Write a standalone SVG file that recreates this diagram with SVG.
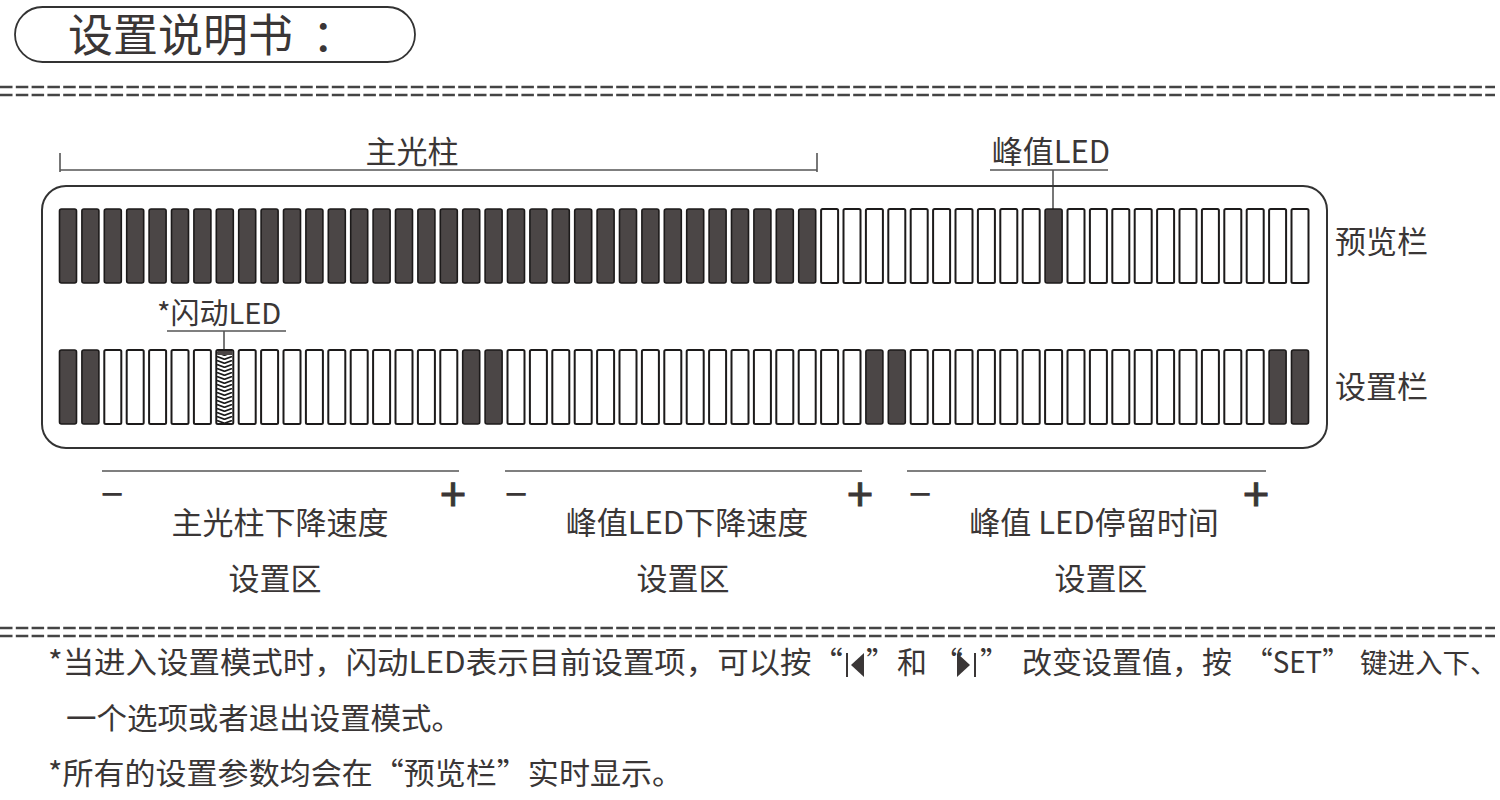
<svg xmlns="http://www.w3.org/2000/svg" width="1500" height="800" viewBox="0 0 1500 800">
<defs>
<style>
text{font-family:"Noto Sans CJK SC","Noto Sans",sans-serif;fill:#3a3636}
.dk{fill:#4b4646;stroke:#1c1a1a;stroke-width:1.6}
.wt{fill:#fff;stroke:#1c1a1a;stroke-width:2}
.ln{stroke:#555;stroke-width:1.6;fill:none}
.eq{stroke:#444;stroke-width:2.4;stroke-dasharray:12.5 3.3;fill:none}
</style>
<pattern id="herr" width="17" height="4" patternUnits="userSpaceOnUse" x="216" y="352">
<rect width="17" height="4" fill="#fff"/>
<polyline points="1,0.5 8.5,3.3 16,0.5" fill="none" stroke="#1a1a1a" stroke-width="1.7"/>
</pattern>
</defs>
<rect width="1500" height="800" fill="#fff"/>

<g id="title">
<rect x="15" y="7" width="400" height="55" rx="27.5" fill="none" stroke="#333" stroke-width="1.8"/>
<text x="68" y="52" font-size="45">设置说明书</text>
<text x="312" y="52" font-size="45">：</text>
</g>

<g id="separators">
<line class="eq" x1="0" y1="87" x2="1495" y2="87"/>
<line class="eq" x1="0" y1="95" x2="1495" y2="95"/>
<line class="eq" x1="0" y1="628" x2="1495" y2="628"/>
<line class="eq" x1="0" y1="636" x2="1495" y2="636"/>
</g>

<g id="connectors">
<line class="ln" x1="60" y1="170" x2="817" y2="170"/>
<line class="ln" x1="60" y1="153" x2="60" y2="172"/>
<line class="ln" x1="817" y1="153" x2="817" y2="172"/>
<line class="ln" x1="990" y1="170" x2="1108" y2="170"/>
<line class="ln" x1="1053" y1="170" x2="1053" y2="210"/>
<line class="ln" x1="167" y1="331" x2="286" y2="331"/>
<line class="ln" x1="224" y1="331" x2="224" y2="351"/>
<line class="ln" x1="102" y1="471" x2="459" y2="471"/>
<line class="ln" x1="505" y1="471" x2="862" y2="471"/>
<line class="ln" x1="907" y1="471" x2="1266" y2="471"/>
</g>

<g id="labels">
<text x="412" y="163" font-size="31" text-anchor="middle">主光柱</text>
<text x="1051" y="163" font-size="31" text-anchor="middle">峰值LED</text>
<text x="157" y="324" font-size="29">*闪动LED</text>
<text x="1335" y="253" font-size="31">预览栏</text>
<text x="1335" y="398" font-size="31">设置栏</text>
</g>

<g id="frame">
<rect x="42" y="186" width="1285" height="262" rx="24" fill="none" stroke="#333" stroke-width="2"/>
</g>

<g id="preview-bar">
<rect class="dk" x="59.5" y="209" width="17" height="74" rx="2"/>
<rect class="dk" x="81.9" y="209" width="17" height="74" rx="2"/>
<rect class="dk" x="104.3" y="209" width="17" height="74" rx="2"/>
<rect class="dk" x="126.7" y="209" width="17" height="74" rx="2"/>
<rect class="dk" x="149.1" y="209" width="17" height="74" rx="2"/>
<rect class="dk" x="171.5" y="209" width="17" height="74" rx="2"/>
<rect class="dk" x="193.9" y="209" width="17" height="74" rx="2"/>
<rect class="dk" x="216.3" y="209" width="17" height="74" rx="2"/>
<rect class="dk" x="238.7" y="209" width="17" height="74" rx="2"/>
<rect class="dk" x="261.1" y="209" width="17" height="74" rx="2"/>
<rect class="dk" x="283.5" y="209" width="17" height="74" rx="2"/>
<rect class="dk" x="305.9" y="209" width="17" height="74" rx="2"/>
<rect class="dk" x="328.3" y="209" width="17" height="74" rx="2"/>
<rect class="dk" x="350.7" y="209" width="17" height="74" rx="2"/>
<rect class="dk" x="373.1" y="209" width="17" height="74" rx="2"/>
<rect class="dk" x="395.5" y="209" width="17" height="74" rx="2"/>
<rect class="dk" x="417.9" y="209" width="17" height="74" rx="2"/>
<rect class="dk" x="440.3" y="209" width="17" height="74" rx="2"/>
<rect class="dk" x="462.7" y="209" width="17" height="74" rx="2"/>
<rect class="dk" x="485.1" y="209" width="17" height="74" rx="2"/>
<rect class="dk" x="507.5" y="209" width="17" height="74" rx="2"/>
<rect class="dk" x="529.9" y="209" width="17" height="74" rx="2"/>
<rect class="dk" x="552.3" y="209" width="17" height="74" rx="2"/>
<rect class="dk" x="574.7" y="209" width="17" height="74" rx="2"/>
<rect class="dk" x="597.1" y="209" width="17" height="74" rx="2"/>
<rect class="dk" x="619.5" y="209" width="17" height="74" rx="2"/>
<rect class="dk" x="641.9" y="209" width="17" height="74" rx="2"/>
<rect class="dk" x="664.3" y="209" width="17" height="74" rx="2"/>
<rect class="dk" x="686.7" y="209" width="17" height="74" rx="2"/>
<rect class="dk" x="709.1" y="209" width="17" height="74" rx="2"/>
<rect class="dk" x="731.5" y="209" width="17" height="74" rx="2"/>
<rect class="dk" x="753.9" y="209" width="17" height="74" rx="2"/>
<rect class="dk" x="776.3" y="209" width="17" height="74" rx="2"/>
<rect class="dk" x="798.7" y="209" width="17" height="74" rx="2"/>
<rect class="wt" x="821.1" y="209" width="17" height="74" rx="1.5"/>
<rect class="wt" x="843.5" y="209" width="17" height="74" rx="1.5"/>
<rect class="wt" x="865.9" y="209" width="17" height="74" rx="1.5"/>
<rect class="wt" x="888.3" y="209" width="17" height="74" rx="1.5"/>
<rect class="wt" x="910.7" y="209" width="17" height="74" rx="1.5"/>
<rect class="wt" x="933.1" y="209" width="17" height="74" rx="1.5"/>
<rect class="wt" x="955.5" y="209" width="17" height="74" rx="1.5"/>
<rect class="wt" x="977.9" y="209" width="17" height="74" rx="1.5"/>
<rect class="wt" x="1000.3" y="209" width="17" height="74" rx="1.5"/>
<rect class="wt" x="1022.7" y="209" width="17" height="74" rx="1.5"/>
<rect class="dk" x="1045.1" y="209" width="17" height="74" rx="2"/>
<rect class="wt" x="1067.5" y="209" width="17" height="74" rx="1.5"/>
<rect class="wt" x="1089.9" y="209" width="17" height="74" rx="1.5"/>
<rect class="wt" x="1112.3" y="209" width="17" height="74" rx="1.5"/>
<rect class="wt" x="1134.7" y="209" width="17" height="74" rx="1.5"/>
<rect class="wt" x="1157.1" y="209" width="17" height="74" rx="1.5"/>
<rect class="wt" x="1179.5" y="209" width="17" height="74" rx="1.5"/>
<rect class="wt" x="1201.9" y="209" width="17" height="74" rx="1.5"/>
<rect class="wt" x="1224.3" y="209" width="17" height="74" rx="1.5"/>
<rect class="wt" x="1246.7" y="209" width="17" height="74" rx="1.5"/>
<rect class="wt" x="1269.1" y="209" width="17" height="74" rx="1.5"/>
<rect class="wt" x="1291.5" y="209" width="17" height="74" rx="1.5"/>
</g>

<g id="setting-bar">
<rect class="dk" x="59.5" y="350" width="17" height="74" rx="2"/>
<rect class="dk" x="81.9" y="350" width="17" height="74" rx="2"/>
<rect class="wt" x="104.3" y="350" width="17" height="74" rx="1.5"/>
<rect class="wt" x="126.7" y="350" width="17" height="74" rx="1.5"/>
<rect class="wt" x="149.1" y="350" width="17" height="74" rx="1.5"/>
<rect class="wt" x="171.5" y="350" width="17" height="74" rx="1.5"/>
<rect class="wt" x="193.9" y="350" width="17" height="74" rx="1.5"/>
<rect x="216.3" y="350" width="17" height="74" rx="1.5" fill="url(#herr)" stroke="#1c1a1a" stroke-width="2"/>
<rect x="217.3" y="351" width="15" height="4" fill="#4b4646"/>
<rect class="wt" x="238.7" y="350" width="17" height="74" rx="1.5"/>
<rect class="wt" x="261.1" y="350" width="17" height="74" rx="1.5"/>
<rect class="wt" x="283.5" y="350" width="17" height="74" rx="1.5"/>
<rect class="wt" x="305.9" y="350" width="17" height="74" rx="1.5"/>
<rect class="wt" x="328.3" y="350" width="17" height="74" rx="1.5"/>
<rect class="wt" x="350.7" y="350" width="17" height="74" rx="1.5"/>
<rect class="wt" x="373.1" y="350" width="17" height="74" rx="1.5"/>
<rect class="wt" x="395.5" y="350" width="17" height="74" rx="1.5"/>
<rect class="wt" x="417.9" y="350" width="17" height="74" rx="1.5"/>
<rect class="wt" x="440.3" y="350" width="17" height="74" rx="1.5"/>
<rect class="dk" x="462.7" y="350" width="17" height="74" rx="2"/>
<rect class="dk" x="485.1" y="350" width="17" height="74" rx="2"/>
<rect class="wt" x="507.5" y="350" width="17" height="74" rx="1.5"/>
<rect class="wt" x="529.9" y="350" width="17" height="74" rx="1.5"/>
<rect class="wt" x="552.3" y="350" width="17" height="74" rx="1.5"/>
<rect class="wt" x="574.7" y="350" width="17" height="74" rx="1.5"/>
<rect class="wt" x="597.1" y="350" width="17" height="74" rx="1.5"/>
<rect class="wt" x="619.5" y="350" width="17" height="74" rx="1.5"/>
<rect class="wt" x="641.9" y="350" width="17" height="74" rx="1.5"/>
<rect class="wt" x="664.3" y="350" width="17" height="74" rx="1.5"/>
<rect class="wt" x="686.7" y="350" width="17" height="74" rx="1.5"/>
<rect class="wt" x="709.1" y="350" width="17" height="74" rx="1.5"/>
<rect class="wt" x="731.5" y="350" width="17" height="74" rx="1.5"/>
<rect class="wt" x="753.9" y="350" width="17" height="74" rx="1.5"/>
<rect class="wt" x="776.3" y="350" width="17" height="74" rx="1.5"/>
<rect class="wt" x="798.7" y="350" width="17" height="74" rx="1.5"/>
<rect class="wt" x="821.1" y="350" width="17" height="74" rx="1.5"/>
<rect class="wt" x="843.5" y="350" width="17" height="74" rx="1.5"/>
<rect class="dk" x="865.9" y="350" width="17" height="74" rx="2"/>
<rect class="dk" x="888.3" y="350" width="17" height="74" rx="2"/>
<rect class="wt" x="910.7" y="350" width="17" height="74" rx="1.5"/>
<rect class="wt" x="933.1" y="350" width="17" height="74" rx="1.5"/>
<rect class="wt" x="955.5" y="350" width="17" height="74" rx="1.5"/>
<rect class="wt" x="977.9" y="350" width="17" height="74" rx="1.5"/>
<rect class="wt" x="1000.3" y="350" width="17" height="74" rx="1.5"/>
<rect class="wt" x="1022.7" y="350" width="17" height="74" rx="1.5"/>
<rect class="wt" x="1045.1" y="350" width="17" height="74" rx="1.5"/>
<rect class="wt" x="1067.5" y="350" width="17" height="74" rx="1.5"/>
<rect class="wt" x="1089.9" y="350" width="17" height="74" rx="1.5"/>
<rect class="wt" x="1112.3" y="350" width="17" height="74" rx="1.5"/>
<rect class="wt" x="1134.7" y="350" width="17" height="74" rx="1.5"/>
<rect class="wt" x="1157.1" y="350" width="17" height="74" rx="1.5"/>
<rect class="wt" x="1179.5" y="350" width="17" height="74" rx="1.5"/>
<rect class="wt" x="1201.9" y="350" width="17" height="74" rx="1.5"/>
<rect class="wt" x="1224.3" y="350" width="17" height="74" rx="1.5"/>
<rect class="wt" x="1246.7" y="350" width="17" height="74" rx="1.5"/>
<rect class="dk" x="1269.1" y="350" width="17" height="74" rx="2"/>
<rect class="dk" x="1291.5" y="350" width="17" height="74" rx="2"/>
</g>

<g id="zone1">
<text x="112" y="509" font-size="40" text-anchor="middle">−</text>
<text x="453" y="511" font-size="46" text-anchor="middle" stroke="#3a3636" stroke-width="1">+</text>
<text x="280" y="534" font-size="31" text-anchor="middle">主光柱下降速度</text>
<text x="275" y="590" font-size="31" text-anchor="middle">设置区</text>
</g>
<g id="zone2">
<text x="516" y="509" font-size="40" text-anchor="middle">−</text>
<text x="860" y="511" font-size="46" text-anchor="middle" stroke="#3a3636" stroke-width="1">+</text>
<text x="687" y="534" font-size="31" text-anchor="middle">峰值LED下降速度</text>
<text x="683" y="590" font-size="31" text-anchor="middle">设置区</text>
</g>
<g id="zone3">
<text x="920" y="509" font-size="40" text-anchor="middle">−</text>
<text x="1256" y="511" font-size="46" text-anchor="middle" stroke="#3a3636" stroke-width="1">+</text>
<text x="1094" y="534" font-size="31" text-anchor="middle">峰值 LED停留时间</text>
<text x="1101" y="590" font-size="31" text-anchor="middle">设置区</text>
</g>

<g id="notes">
<text x="48" y="673" font-size="30" textLength="795" lengthAdjust="spacingAndGlyphs">*当进入设置模式时，闪动LED表示目前设置项，可以按“</text>
<line x1="847" y1="653" x2="847" y2="677" stroke="#3a3636" stroke-width="2"/>
<polygon points="851,665 864,653 864,677" fill="#3a3636"/>
<text x="866" y="673" font-size="30">”</text>
<text x="897" y="673" font-size="30">和</text>
<text x="933" y="673" font-size="30">“</text>
<polygon points="957,653 970,665 957,677" fill="#3a3636"/>
<line x1="975" y1="653" x2="975" y2="677" stroke="#3a3636" stroke-width="2"/>
<text x="980" y="673" font-size="30">”</text>
<text x="1022" y="673" font-size="30" textLength="210" lengthAdjust="spacingAndGlyphs">改变设置值，按</text>
<text x="1245" y="673" font-size="30" textLength="105" lengthAdjust="spacingAndGlyphs">“SET”</text>
<text x="1360" y="673" font-size="27.5">键进入下、</text>
<text x="66" y="729" font-size="30" textLength="396" lengthAdjust="spacingAndGlyphs">一个选项或者退出设置模式。</text>
<text x="48" y="784" font-size="30" textLength="635" lengthAdjust="spacingAndGlyphs">*所有的设置参数均会在“预览栏”实时显示。</text>
</g>
</svg>
